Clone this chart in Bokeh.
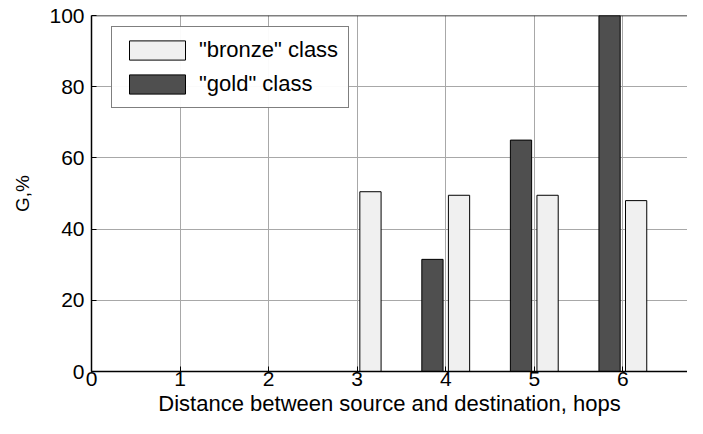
from bokeh.plotting import figure
from bokeh.models import FixedTicker, Range1d, Legend, LegendItem, Span
from bokeh.embed import file_html
from bokeh.resources import INLINE

hops = [1, 2, 3, 4, 5, 6]
gold = [0, 0, 0, 31.5, 65, 100]
bronze = [0, 0, 50.5, 49.5, 49.5, 48]
x_ticks = [0, 1, 2, 3, 4, 5, 6]
y_ticks = [0, 20, 40, 60, 80, 100]

FONT = "Liberation Sans"
offset = 0.15
bw = 0.24

p = figure(width=687, height=418, output_backend="svg", toolbar_location=None,
           x_range=Range1d(0, 6.73), y_range=Range1d(0, 100),
           min_border_left=91, min_border_right=0, min_border_top=15, min_border_bottom=40)
p.outline_line_color = None
p.background_fill_color = "white"
p.border_fill_color = "white"

xs_g = [h - offset for h in hops]
xs_b = [h + offset for h in hops]
rg = p.vbar(x=xs_g, top=gold, width=bw, fill_color="#4f4f4f", line_color="black", line_width=1)
rb = p.vbar(x=xs_b, top=bronze, width=bw, fill_color="#f0f0f0", line_color="black", line_width=1)

for ax in (p.xaxis[0], p.yaxis[0]):
    ax.major_tick_in = 5
    ax.major_tick_out = 0
    ax.minor_tick_in = 0
    ax.minor_tick_out = 0
    ax.axis_line_color = "black"
    ax.axis_line_width = 1.5
    ax.major_label_text_font = FONT
    ax.major_label_text_font_size = "21px"
    ax.major_label_text_color = "black"
    ax.axis_label_text_font = FONT
    ax.axis_label_text_font_style = "normal"
    ax.axis_label_text_color = "black"

p.xaxis[0].ticker = FixedTicker(ticks=x_ticks)
p.yaxis[0].ticker = FixedTicker(ticks=y_ticks)
p.xaxis[0].axis_label = "Distance between source and destination, hops"
p.yaxis[0].axis_label = "G,%"
p.xaxis[0].axis_label_text_font_size = "22px"
p.yaxis[0].axis_label_text_font_size = "19px"
p.xaxis[0].major_label_standoff = 0
p.xaxis[0].axis_label_standoff = 2
p.yaxis[0].major_label_standoff = 7
p.yaxis[0].axis_label_standoff = 13

top_border = Span(location=100, dimension="width", line_color="black", line_width=1.5)
p.add_layout(top_border)

p.xgrid.ticker = FixedTicker(ticks=x_ticks)
p.ygrid.ticker = FixedTicker(ticks=y_ticks)
p.grid.grid_line_color = "#a8a8a8"
p.grid.grid_line_width = 1

legend = Legend(items=[LegendItem(label='"bronze" class', renderers=[rb]),
                       LegendItem(label='"gold" class', renderers=[rg])],
                location=(20, 353 - 14 - 76))
legend.glyph_width = 70
legend.glyph_height = 24
legend.label_text_font = FONT
legend.label_text_font_size = "22px"
legend.label_text_color = "black"
legend.label_height = 24
legend.border_line_color = "black"
legend.border_line_width = 1.5
legend.margin = 0
legend.padding = 10
legend.spacing = 8
legend.label_standoff = 7
p.add_layout(legend, "center")

open("out.html", "w").write(file_html(p, INLINE))
